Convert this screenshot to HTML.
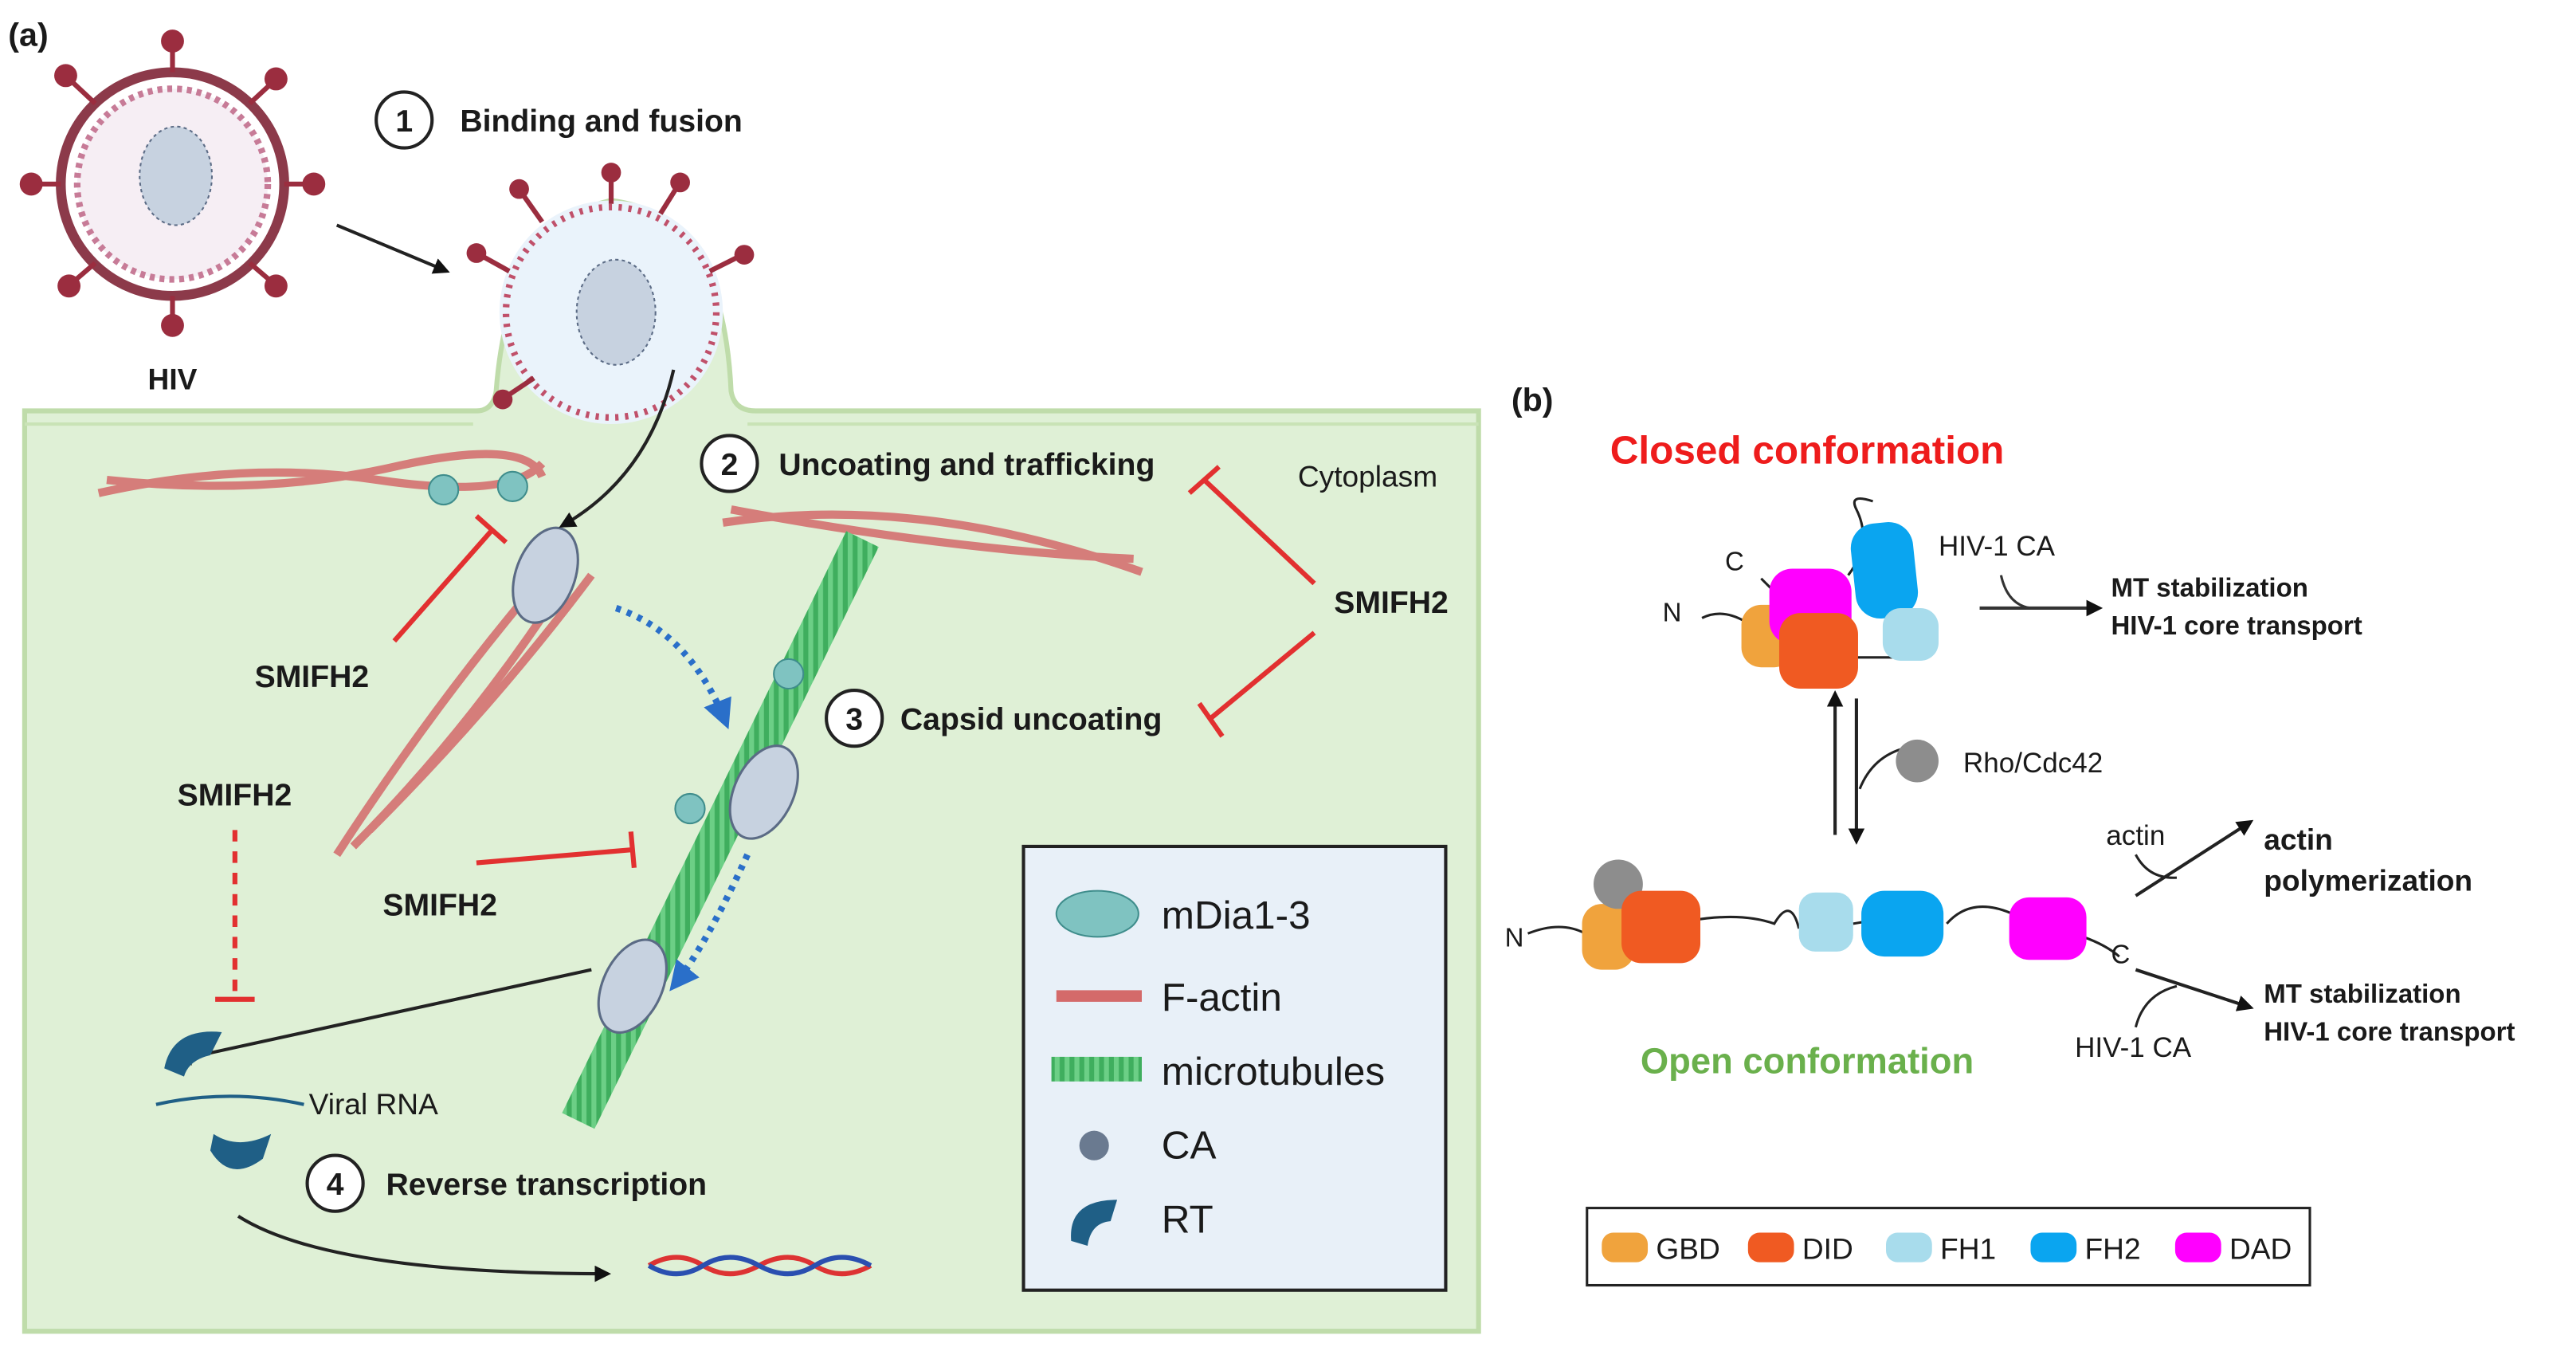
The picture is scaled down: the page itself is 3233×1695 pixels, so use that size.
<!DOCTYPE html>
<html><head><meta charset="utf-8"><style>
html,body{margin:0;padding:0;background:#fff;width:3233px;height:1695px;overflow:hidden}
svg{display:block}
text{font-family:"Liberation Sans",sans-serif;fill:#1a1a1a}
.b{font-weight:bold}
</style></head><body>
<svg width="3233" height="1695" viewBox="0 0 1568 822" preserveAspectRatio="none">
<defs>
<marker id="ah" markerWidth="10" markerHeight="10" refX="8" refY="5" orient="auto" markerUnits="userSpaceOnUse"><path d="M0,0 L10,5 L0,10 z" fill="#111"/></marker>
<marker id="bh" markerWidth="18" markerHeight="18" refX="14" refY="9" orient="auto" markerUnits="userSpaceOnUse"><path d="M0,0 L18,9 L0,18 z" fill="#2a6fc9"/></marker>
<pattern id="mt" width="6" height="6" patternUnits="userSpaceOnUse"><rect width="6" height="6" fill="#3fae5e"/><rect width="3" height="6" fill="#6ccf86"/></pattern>
</defs>
<text x="5" y="28" class="b" font-size="20">(a)</text>
<path d="M15,250 L290,250 Q300,250 302,238 Q310,135 372,122 Q440,130 445,238 Q447,250 460,250 L900,250 L900,810 L15,810 Z" fill="#dff0d6" stroke="#bfdcaa" stroke-width="3"/>
<path d="M15,258 L288,258 M455,258 L900,258" stroke="#c9e3b6" stroke-width="2"/>
<circle cx="372" cy="190" r="68" fill="#eaf3fb"/>
<circle cx="372" cy="190" r="64" fill="none" stroke="#c0506a" stroke-width="4" stroke-dasharray="2,4"/>
<ellipse cx="375" cy="190" rx="24" ry="32" fill="#c7d2e0" stroke="#5b6b85" stroke-dasharray="2,2"/>
<g stroke="#9b2d3f" stroke-width="3">
<line x1="310" y1="165" x2="292" y2="155"/><line x1="330" y1="135" x2="318" y2="118"/><line x1="372" y1="124" x2="372" y2="108"/><line x1="402" y1="130" x2="412" y2="114"/><line x1="432" y1="165" x2="450" y2="156"/><line x1="325" y1="230" x2="310" y2="240"/></g>
<g fill="#9b2d3f"><circle cx="290" cy="154" r="6"/><circle cx="316" cy="115" r="6"/><circle cx="372" cy="105" r="6"/><circle cx="414" cy="111" r="6"/><circle cx="453" cy="155" r="6"/><circle cx="306" cy="243" r="6"/></g>
<circle cx="105" cy="112" r="68" fill="#fff" stroke="#8c3a4a" stroke-width="6"/>
<circle cx="105" cy="112" r="58" fill="#f6eef4" stroke="#c77b97" stroke-width="4" stroke-dasharray="3,3"/>
<ellipse cx="107" cy="107" rx="22" ry="30" fill="#c7d2e0" stroke="#5b6b85" stroke-dasharray="2,2"/>
<g stroke="#9b2d3f" stroke-width="3">
<line x1="58" y1="63" x2="42" y2="48"/><line x1="105" y1="44" x2="105" y2="28"/><line x1="152" y1="63" x2="166" y2="50"/><line x1="173" y1="112" x2="188" y2="112"/><line x1="152" y1="160" x2="166" y2="172"/><line x1="105" y1="180" x2="105" y2="195"/><line x1="58" y1="160" x2="44" y2="172"/><line x1="37" y1="112" x2="22" y2="112"/></g>
<g fill="#9b2d3f"><circle cx="40" cy="46" r="7"/><circle cx="105" cy="25" r="7"/><circle cx="168" cy="48" r="7"/><circle cx="191" cy="112" r="7"/><circle cx="168" cy="174" r="7"/><circle cx="105" cy="198" r="7"/><circle cx="42" cy="174" r="7"/><circle cx="19" cy="112" r="7"/></g>
<text x="105" y="237" class="b" font-size="18" text-anchor="middle">HIV</text>
<g font-size="19" class="b">
<circle cx="246" cy="73" r="17" fill="#fff" stroke="#222" stroke-width="2"/><text x="246" y="80" text-anchor="middle">1</text><text x="280" y="80">Binding and fusion</text>
<circle cx="444" cy="282" r="17" fill="#fff" stroke="#222" stroke-width="2"/><text x="444" y="289" text-anchor="middle">2</text><text x="474" y="289">Uncoating and trafficking</text>
<circle cx="520" cy="437" r="17" fill="#fff" stroke="#222" stroke-width="2"/><text x="520" y="444" text-anchor="middle">3</text><text x="548" y="444">Capsid uncoating</text>
<circle cx="204" cy="720" r="17" fill="#fff" stroke="#222" stroke-width="2"/><text x="204" y="727" text-anchor="middle">4</text><text x="235" y="727">Reverse transcription</text>
<text x="812" y="373">SMIFH2</text><text x="155" y="418">SMIFH2</text><text x="108" y="490">SMIFH2</text><text x="233" y="557">SMIFH2</text>
</g>
<text x="790" y="296" font-size="18">Cytoplasm</text>
<g stroke="#d46a6a" stroke-width="5" fill="none" opacity="0.85">
<path d="M60,300 Q150,280 230,292 T330,282"/><path d="M65,292 Q160,302 240,284 T330,290"/>
<path d="M440,318 Q560,300 695,348"/><path d="M445,310 Q580,335 690,340"/>
<path d="M340,340 Q270,420 205,520"/><path d="M350,345 Q290,440 215,515"/><path d="M360,350 Q300,430 225,505"/>
</g>
<path d="M525,328 L352,682" stroke="url(#mt)" stroke-width="22"/>
<g fill="#c7d2e0" stroke="#5b6b85" stroke-width="1.5">
<ellipse cx="332" cy="350" rx="18" ry="30" transform="rotate(20 332 350)"/>
<ellipse cx="465" cy="482" rx="18" ry="30" transform="rotate(25 465 482)"/>
<ellipse cx="385" cy="600" rx="18" ry="30" transform="rotate(25 385 600)"/>
</g>
<g fill="#7fc3c1" stroke="#3f8d8c"><circle cx="270" cy="298" r="9"/><circle cx="312" cy="296" r="9"/><circle cx="480" cy="410" r="9"/><circle cx="420" cy="492" r="9"/></g>
<path d="M375,370 Q420,385 442,440" stroke="#2a6fc9" stroke-width="4" stroke-dasharray="3,4" fill="none" marker-end="url(#bh)"/>
<path d="M455,520 Q430,575 410,600" stroke="#2a6fc9" stroke-width="4" stroke-dasharray="3,4" fill="none" marker-end="url(#bh)"/>
<g stroke="#222" stroke-width="2" fill="none" marker-end="url(#ah)">
<path d="M205,137 L272,165"/><path d="M410,225 Q395,290 342,320"/><path d="M360,590 L108,645"/><path d="M145,740 Q200,775 370,775"/>
</g>
<g stroke="#e23030" stroke-width="3">
<line x1="800" y1="355" x2="733" y2="292"/><line x1="724" y1="300" x2="742" y2="284"/>
<line x1="800" y1="385" x2="737" y2="437"/><line x1="730" y1="428" x2="744" y2="448"/>
<line x1="240" y1="390" x2="300" y2="322"/><line x1="290" y1="314" x2="308" y2="330"/>
<line x1="290" y1="525" x2="385" y2="517"/><line x1="384" y1="506" x2="386" y2="528"/>
<line x1="143" y1="505" x2="143" y2="605" stroke-dasharray="7,6"/><line x1="131" y1="608" x2="155" y2="608"/>
</g>
<path d="M100,650 Q105,625 135,628 L128,642 Q115,645 112,655 Z" fill="#1f5f86"/>
<path d="M128,700 Q140,720 160,705 L165,690 Q145,700 130,690 Z" fill="#1f5f86"/>
<path d="M95,672 Q140,662 185,672" stroke="#1f5f86" stroke-width="2" fill="none"/>
<text x="188" y="678" font-size="18">Viral RNA</text>
<path d="M395,770 Q412,760 428,770 T462,770 T496,770 T530,770" stroke="#d33" stroke-width="3" fill="none"/>
<path d="M395,770 Q412,780 428,770 T462,770 T496,770 T530,770" stroke="#2a4fb0" stroke-width="3" fill="none"/>
<rect x="623" y="515" width="257" height="270" fill="#e8f0f8" stroke="#222" stroke-width="2"/>
<ellipse cx="668" cy="556" rx="25" ry="14" fill="#7fc3c1" stroke="#3f8d8c"/>
<path d="M643,606 L695,606" stroke="#d46a6a" stroke-width="7"/>
<rect x="640" y="643" width="55" height="15" fill="url(#mt)"/>
<circle cx="666" cy="697" r="9" fill="#6a7a90"/>
<path d="M652,755 Q650,730 680,730 L676,743 Q664,744 662,758 Z" fill="#1f5f86"/>
<g font-size="24"><text x="707" y="565">mDia1-3</text><text x="707" y="615">F-actin</text><text x="707" y="660">microtubules</text><text x="707" y="705">CA</text><text x="707" y="750">RT</text></g>
<text x="920" y="250" class="b" font-size="20">(b)</text>
<text x="1100" y="282" class="b" font-size="24" text-anchor="middle" style="fill:#ee1c1c">Closed conformation</text>
<path d="M1036,376 Q1048,370 1062,378" stroke="#222" fill="none" stroke-width="1.5"/>
<path d="M1072,352 L1085,365" stroke="#222" stroke-width="1.5"/>
<path d="M1125,350 Q1140,330 1130,310 Q1125,300 1140,305" stroke="#222" fill="none" stroke-width="1.5"/>
<path d="M1125,392 L1125,400 L1170,400 L1165,385" stroke="#222" fill="none" stroke-width="1.5"/>
<rect x="1060" y="368" width="32" height="38" rx="12" fill="#f0a33d"/>
<rect x="1077" y="346" width="50" height="46" rx="14" fill="#ff00ff"/>
<rect x="1083" y="373" width="48" height="46" rx="13" fill="#f05a22"/>
<rect x="1128" y="318" width="38" height="58" rx="15" fill="#0aa5f0" transform="rotate(-6 1147 347)"/>
<rect x="1146" y="370" width="34" height="32" rx="11" fill="#a8dcec"/>
<text x="1050" y="347" font-size="16">C</text><text x="1012" y="378" font-size="16">N</text>
<text x="1180" y="338" font-size="17">HIV-1 CA</text>
<path d="M1205,370 L1278,370" stroke="#333" stroke-width="2" marker-end="url(#ah)"/>
<path d="M1218,350 Q1222,368 1236,370" stroke="#333" fill="none" stroke-width="1.5"/>
<g class="b" font-size="16"><text x="1285" y="363">MT stabilization</text><text x="1285" y="386">HIV-1 core transport</text></g>
<path d="M1117,508 L1117,422" stroke="#222" stroke-width="2" marker-end="url(#ah)"/>
<path d="M1130,425 L1130,512" stroke="#222" stroke-width="2" marker-end="url(#ah)"/>
<path d="M1160,455 Q1140,460 1132,480" stroke="#222" fill="none" stroke-width="1.5"/>
<circle cx="1167" cy="463" r="13" fill="#8d8d8d"/>
<text x="1195" y="470" font-size="17">Rho/Cdc42</text>
<path d="M930,568 Q950,560 965,568 M1030,560 Q1060,555 1080,562 Q1090,545 1095,565 M1128,562 L1140,560 M1185,562 Q1200,545 1225,556 M1268,570 Q1282,575 1290,582" stroke="#222" fill="none" stroke-width="1.5"/>
<rect x="963" y="550" width="32" height="40" rx="12" fill="#f0a33d"/>
<circle cx="985" cy="538" r="15" fill="#8d8d8d"/>
<rect x="987" y="542" width="48" height="44" rx="12" fill="#f05a22"/>
<rect x="1095" y="543" width="33" height="36" rx="10" fill="#a8dcec"/>
<rect x="1133" y="542" width="50" height="40" rx="14" fill="#0aa5f0"/>
<rect x="1223" y="546" width="47" height="38" rx="12" fill="#ff00ff"/>
<text x="916" y="576" font-size="16">N</text><text x="1285" y="586" font-size="16">C</text>
<text x="1282" y="514" font-size="17">actin</text>
<path d="M1300,545 L1370,500" stroke="#222" stroke-width="2" marker-end="url(#ah)"/>
<path d="M1300,520 Q1308,535 1325,534" stroke="#222" fill="none" stroke-width="1.5"/>
<g class="b" font-size="18"><text x="1378" y="517">actin</text><text x="1378" y="542">polymerization</text></g>
<path d="M1300,590 L1370,613" stroke="#222" stroke-width="2" marker-end="url(#ah)"/>
<path d="M1300,625 Q1305,605 1325,600" stroke="#222" fill="none" stroke-width="1.5"/>
<text x="1263" y="643" font-size="17">HIV-1 CA</text>
<g class="b" font-size="16"><text x="1378" y="610">MT stabilization</text><text x="1378" y="633">HIV-1 core transport</text></g>
<text x="1100" y="653" class="b" font-size="22" text-anchor="middle" style="fill:#6ab04c">Open conformation</text>
<rect x="966" y="735" width="440" height="47" fill="#fff" stroke="#222" stroke-width="1.5"/>
<rect x="975" y="750" width="28" height="18" rx="7" fill="#f0a33d"/><text x="1008" y="766" font-size="18">GBD</text>
<rect x="1064" y="750" width="28" height="18" rx="7" fill="#f05a22"/><text x="1097" y="766" font-size="18">DID</text>
<rect x="1148" y="750" width="28" height="18" rx="7" fill="#a8dcec"/><text x="1181" y="766" font-size="18">FH1</text>
<rect x="1236" y="750" width="28" height="18" rx="7" fill="#0aa5f0"/><text x="1269" y="766" font-size="18">FH2</text>
<rect x="1324" y="750" width="28" height="18" rx="7" fill="#ff00ff"/><text x="1357" y="766" font-size="18">DAD</text>
</svg>
</body></html>
